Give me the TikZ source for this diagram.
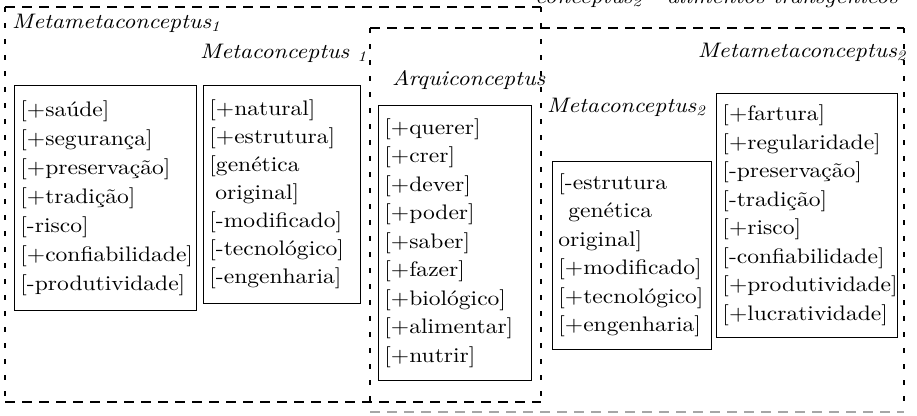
\documentclass[tikz,border=0pt]{standalone}
\usepackage{fontspec}
\setmainfont{lmroman10-regular.otf}[ItalicFont=lmroman10-italic.otf, BoldFont=lmroman10-bold.otf, FakeStretch=1.12]
\begin{document}
\begin{tikzpicture}[x=1pt,y=-1pt,
  every node/.style={inner sep=0pt},
  feat/.style={draw=black, line width=0.9pt, anchor=north west, align=left,
    inner xsep=6pt, inner ysep=0pt,
    font=\fontsize{21}{#1}\selectfont},
  lbl/.style={font=\fontsize{21}{25}\selectfont\itshape},
  hdash/.style={line width=1.1pt, dash pattern=on 10pt off 7pt},
  vdash/.style={line width=1.1pt, dash pattern=on 5pt off 11pt}]
\useasboundingbox (0,0) rectangle (917,415);
% dashed frames
\coordinate (a1) at (5,7);   \coordinate (a2) at (541,7);
\coordinate (a3) at (541,402); \coordinate (a4) at (5,402);
\coordinate (b1) at (370,28); \coordinate (b2) at (904,28);
\coordinate (b3) at (904,412); \coordinate (b4) at (370,412);
\draw[hdash] (a1) -- (a2);
\draw[hdash] (a4) -- (a3);
\draw[vdash] (a1) -- (a4);
\draw[vdash] (a2) -- (a3);
\draw[hdash] (b1) -- (b2);
\draw[hdash, draw=gray!70] (b4) -- (b3);
\draw[vdash] (b1) -- (b4);
\draw[vdash] (b2) -- (b3);
% labels
\node[lbl, anchor=base west] (top) at (535,3) {conceptus\textsubscript{2} - alimentos transgênicos};
\node[lbl, anchor=base west] (mm1) at (12,28) {Metametaconceptus\textsubscript{1}};
\node[lbl, anchor=base west] (m1) at (200,58) {Metaconceptus \textsubscript{1}};
\node[lbl, anchor=base west] (arq) at (392,85) {Arquiconceptus};
\node[lbl, anchor=base west] (m2) at (547,112) {Metaconceptus\textsubscript{2}};
\node[lbl, anchor=base east] (mm2) at (906,57) {Metametaconceptus\textsubscript{2}};
% feature boxes
\node[feat=29, minimum width=182pt, minimum height=225pt, text width=170pt] (b1box) at (14,85)
 {[+saúde]\\{}[+segurança]\\{}[+preservação]\\{}[+tradição]\\{}[-risco]\\{}[+confiabilidade]\\{}[-produtividade]};
\node[feat=28, minimum width=157pt, minimum height=218pt, text width=145pt] (b2box) at (203,85)
 {[+natural]\\{}[+estrutura]\\{}[genética\\\hspace*{6pt}original]\\{}[-modificado]\\{}[-tecnológico]\\{}[-engenharia]};
\node[feat=28.5, minimum width=153pt, minimum height=275pt, text width=141pt] (b3box) at (378,105)
 {[+querer]\\{}[+crer]\\{}[+dever]\\{}[+poder]\\{}[+saber]\\{}[+fazer]\\{}[+biológico]\\{}[+alimentar]\\{}[+nutrir]};
\node[feat=28.5, minimum width=159pt, minimum height=188pt, text width=147pt] (b4box) at (552,161)
 {[-estrutura\\\hspace*{10pt}genética\\original]\\{}[+modificado]\\{}[+tecnológico]\\{}[+engenharia]};
\node[feat=28.5, minimum width=181pt, minimum height=244pt, text width=169pt] (b5box) at (716,93)
 {[+fartura]\\{}[+regularidade]\\{}[-preservação]\\{}[-tradição]\\{}[+risco]\\{}[-confiabilidade]\\{}[+produtividade]\\{}[+lucratividade]};
\end{tikzpicture}
\end{document}
